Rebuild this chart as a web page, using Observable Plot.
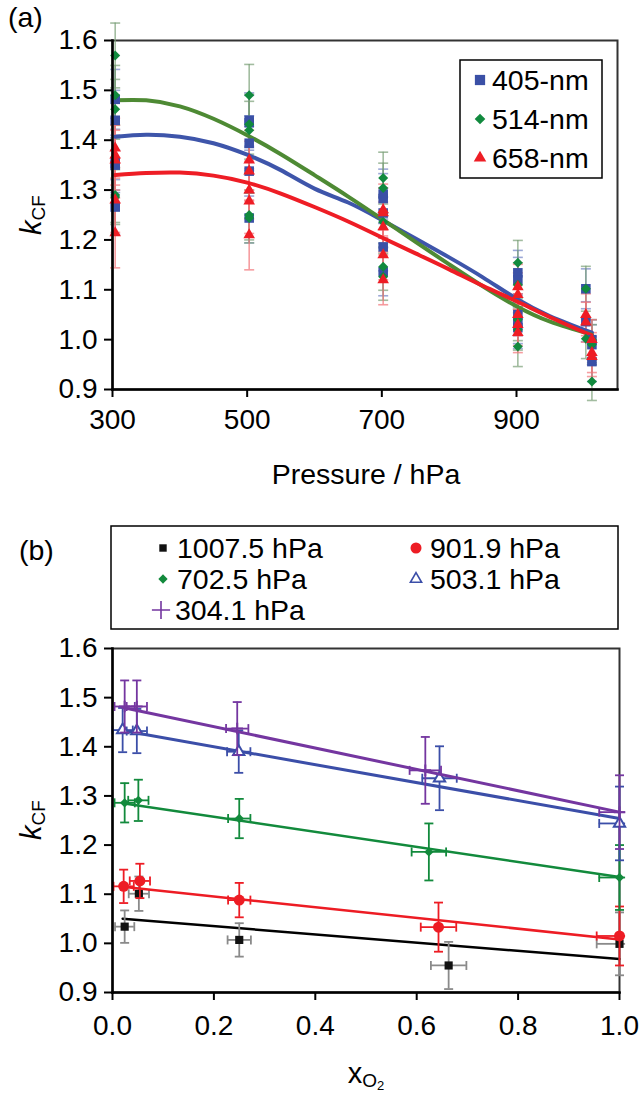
<!DOCTYPE html>
<html><head><meta charset="utf-8">
<script src="https://cdn.jsdelivr.net/npm/d3@7"></script>
<script src="https://cdn.jsdelivr.net/npm/@observablehq/plot@0.6"></script>
<style>
body{margin:0;background:#fff;}
#root{position:relative;width:642px;height:1093px;overflow:hidden;background:#fff;}
#root svg{position:absolute;left:0;}
</style></head><body><div id="root"></div>
<script>
// ---------- Panel (a) data ----------
const pressureA = [304,304,304,304,304, 503,503,503,503,503, 702,702,702,702,702, 902,902,902,902,902, 1003,1003,1012,1012,1012];
const k405 = [1.482,1.44,1.355,1.35,1.266, 1.44,1.435,1.394,1.338,1.244, 1.292,1.283,1.254,1.186,1.136, 1.134,1.12,1.05,1.034,1.024, 1.102,1.036,1.0,0.99,0.956];
const e405 = [0.06,0.06,0.055,0.055,0.055, 0.055,0.055,0.055,0.05,0.05, 0.05,0.05,0.05,0.048,0.048, 0.045,0.045,0.042,0.042,0.042, 0.04,0.04,0.04,0.04,0.04];
const k514 = [1.57,1.49,1.462,1.29,1.286, 1.49,1.432,1.42,1.25,1.244, 1.324,1.304,1.236,1.146,1.126, 1.154,1.11,1.04,1.02,0.986, 1.102,1.002,1.0,0.99,0.916];
const e514 = [0.065,0.06,0.06,0.055,0.055, 0.062,0.06,0.058,0.05,0.05, 0.052,0.05,0.05,0.047,0.047, 0.045,0.044,0.042,0.041,0.04, 0.045,0.04,0.04,0.04,0.038];
const k658 = [1.384,1.37,1.36,1.28,1.214, 1.36,1.338,1.3,1.278,1.21, 1.26,1.254,1.226,1.17,1.12, 1.106,1.09,1.05,1.03,1.014, 1.05,1.035,1.0,0.974,0.966];
const e658 = [0.06,0.06,0.06,0.065,0.07, 0.06,0.06,0.058,0.065,0.07, 0.052,0.05,0.05,0.05,0.05, 0.045,0.044,0.042,0.042,0.04, 0.042,0.04,0.04,0.04,0.04];
// fitted curves
const curveP = [304,350,400,450,500,550,600,650,700,750,800,850,900,950,1012];
const curve405 = [1.407,1.411,1.407,1.394,1.371,1.340,1.303,1.275,1.240,1.203,1.165,1.125,1.082,1.047,1.014];
const curve514 = [1.480,1.480,1.468,1.443,1.410,1.372,1.330,1.287,1.242,1.196,1.151,1.107,1.067,1.036,1.010];
const curve658 = [1.330,1.334,1.335,1.329,1.315,1.293,1.266,1.237,1.205,1.173,1.141,1.108,1.077,1.045,1.008];
const namesA = ["405-nm","514-nm","658-nm"];
const xTicksA = [300,500,700,900];
const yTicks = [0.9,1.0,1.1,1.2,1.3,1.4,1.5,1.6];

// ---------- Panel (b) data ----------
const namesB = ["1007.5 hPa","901.9 hPa","702.5 hPa","503.1 hPa","304.1 hPa"];
const xO2_1007 = [0.024,0.052,0.25,0.663,1.0];
const k_1007 = [1.034,1.101,1.007,0.955,0.999];
const ey_1007 = [0.033,0.035,0.034,0.048,0.064];
const ex_1007 = [0.019,0.02,0.023,0.035,0.045];
const xO2_902 = [0.022,0.054,0.25,0.643,1.0];
const k_902 = [1.116,1.127,1.088,1.033,1.015];
const ey_902 = [0.034,0.035,0.035,0.05,0.06];
const ex_902 = [0.02,0.02,0.022,0.035,0.045];
const xO2_702 = [0.024,0.051,0.25,0.624,1.0];
const k_702 = [1.286,1.291,1.254,1.186,1.134];
const ey_702 = [0.04,0.042,0.04,0.058,0.066];
const ex_702 = [0.02,0.02,0.022,0.034,0.04];
const xO2_503 = [0.02,0.048,0.249,0.645,1.0];
const k_503 = [1.434,1.432,1.39,1.336,1.244];
const ey_503 = [0.045,0.045,0.043,0.065,0.075];
const ex_503 = [0.02,0.02,0.023,0.034,0.04];
const xO2_304 = [0.024,0.048,0.246,0.617,1.0];
const k_304 = [1.482,1.482,1.437,1.352,1.267];
const ey_304 = [0.053,0.053,0.054,0.068,0.075];
const ex_304 = [0.02,0.02,0.022,0.031,0.04];
// linear fits (end points)
const fitX = [0.02,1.0];
const fit_1007 = [1.05,0.968];
const fit_902 = [1.115,1.008];
const fit_702 = [1.285,1.135];
const fit_503 = [1.433,1.254];
const fit_304 = [1.48,1.267];
const xTicksB = [0,0.2,0.4,0.6,0.8,1.0];

// ---------- helpers ----------
const FONT = '"Liberation Sans", Arial, Helvetica, sans-serif';
const TICKFONT = 28, TEXTFONT = 28.5;
const capSym = horiz => ({draw(ctx,size){const r=Math.sqrt(size/Math.PI); if(horiz){ctx.moveTo(-r,0);ctx.lineTo(r,0);}else{ctx.moveTo(0,-r);ctx.lineTo(0,r);}}});
const hcap = capSym(true), vcap = capSym(false);
const root = document.getElementById("root");

// ---------- Panel (a) ----------
const seriesA = [
  {name:namesA[0], k:k405, e:e405, curve:curve405, color:"#3a50a6", line:"#3e55aa", err:"#7283c4", symbol:"square", r:5.4},
  {name:namesA[1], k:k514, e:e514, curve:curve514, color:"#118a3e", line:"#4e8a34", err:"#7ba077", symbol:"diamond2", r:4.5},
  {name:namesA[2], k:k658, e:e658, curve:curve658, color:"#ee1d25", line:"#ee1d25", err:"#f27378", symbol:"triangle", r:4.3}
];
const marksA = [Plot.frame({stroke:"#333", strokeWidth:2})];
for (const s of seriesA) {
  const pts = pressureA.map((p,i)=>({p, k:s.k[i], e:s.e[i]}));
  marksA.push(
    Plot.ruleX(pts,{x:"p", y1:d=>d.k-d.e, y2:d=>d.k+d.e, stroke:s.err, strokeWidth:1.6, strokeOpacity:0.7}),
    Plot.dot(pts,{x:"p", y:d=>d.k+d.e, symbol:hcap, r:5, stroke:s.err, strokeWidth:1.6, strokeOpacity:0.7}),
    Plot.dot(pts,{x:"p", y:d=>d.k-d.e, symbol:hcap, r:5, stroke:s.err, strokeWidth:1.6, strokeOpacity:0.7})
  );
}
for (const s of seriesA) {
  marksA.push(Plot.line(curveP.map((p,i)=>({p, k:s.curve[i]})),{x:"p", y:"k", stroke:s.line, strokeWidth:4, curve:"natural"}));
}
for (const s of seriesA) {
  const pts = pressureA.map((p,i)=>({p, k:s.k[i]}));
  marksA.push(Plot.dot(pts,{x:"p", y:"k", symbol:s.symbol, r:s.r, fill:s.color, stroke:"none"}));
}
marksA.push(
  Plot.frame({anchor:"left", stroke:"#000", strokeWidth:2.5}),
  Plot.frame({anchor:"bottom", stroke:"#000", strokeWidth:2.5}),
  Plot.axisX({ticks:xTicksA, tickSize:8, tickPadding:12, tickFormat:d=>String(d), label:null, strokeWidth:2, fontSize:TICKFONT}),
  Plot.axisY({ticks:yTicks, tickSize:8, tickPadding:7, tickFormat:d=>d.toFixed(1), label:null, strokeWidth:2, fontSize:TICKFONT})
);
const plotA = Plot.plot({
  width:642, height:440, marginTop:40, marginBottom:51, marginLeft:112, marginRight:25,
  x:{domain:[300,1050]}, y:{domain:[0.9,1.6]},
  style:{fontFamily:FONT, fontSize:TICKFONT+"px", color:"#000", background:"transparent", overflow:"visible"},
  marks:marksA
});
plotA.style.top = "0px";
root.appendChild(plotA);

// ---------- Panel (b) ----------
const seriesB = [
  {name:namesB[0], x:xO2_1007, k:k_1007, ey:ey_1007, ex:ex_1007, fit:fit_1007, color:"#111111", line:"#000000", err:"#8a8a8a", symbol:"square", r:4.6, open:false, lw:2.5},
  {name:namesB[1], x:xO2_902, k:k_902, ey:ey_902, ex:ex_902, fit:fit_902, color:"#ed1c24", line:"#ed1c24", err:"#ed1c24", symbol:"circle", r:5.5, open:false, lw:2.5},
  {name:namesB[2], x:xO2_702, k:k_702, ey:ey_702, ex:ex_702, fit:fit_702, color:"#128a3c", line:"#128a3c", err:"#128a3c", symbol:"diamond2", r:4.2, open:false, lw:2.5},
  {name:namesB[3], x:xO2_503, k:k_503, ey:ey_503, ex:ex_503, fit:fit_503, color:"#3b4ea8", line:"#3b4ea8", err:"#3b4ea8", symbol:"triangle2", r:5.4, open:true, lw:3},
  {name:namesB[4], x:xO2_304, k:k_304, ey:ey_304, ex:ex_304, fit:fit_304, color:"#7436a0", line:"#7436a0", err:"#7436a0", symbol:"plus", r:3.8, open:true, lw:3}
];
const marksB = [Plot.frame({stroke:"#333", strokeWidth:2})];
for (const s of seriesB) {
  const pts = s.x.map((x,i)=>({x, k:s.k[i], ey:s.ey[i], ex:s.ex[i]}));
  marksB.push(
    Plot.line(fitX.map((x,i)=>({x, k:s.fit[i]})),{x:"x", y:"k", stroke:s.line, strokeWidth:s.lw}),
    Plot.ruleX(pts,{x:"x", y1:d=>d.k-d.ey, y2:d=>d.k+d.ey, stroke:s.err, strokeWidth:1.8}),
    Plot.dot(pts,{x:"x", y:d=>d.k+d.ey, symbol:hcap, r:4.5, stroke:s.err, strokeWidth:1.8}),
    Plot.dot(pts,{x:"x", y:d=>d.k-d.ey, symbol:hcap, r:4.5, stroke:s.err, strokeWidth:1.8}),
    Plot.ruleY(pts,{y:"k", x1:d=>d.x-d.ex, x2:d=>Math.min(d.x+d.ex,1.012), stroke:s.err, strokeWidth:1.8}),
    Plot.dot(pts.filter(d=>d.x<0.99),{x:d=>d.x+d.ex, y:"k", symbol:vcap, r:4.5, stroke:s.err, strokeWidth:1.8}),
    Plot.dot(pts,{x:d=>d.x-d.ex, y:"k", symbol:vcap, r:4.5, stroke:s.err, strokeWidth:1.8}),
    s.open
      ? Plot.dot(pts,{x:"x", y:"k", symbol:s.symbol, r:s.r, stroke:s.color, strokeWidth:2, fill:s.symbol==="plus"?"none":"white"})
      : Plot.dot(pts,{x:"x", y:"k", symbol:s.symbol, r:s.r, fill:s.color, stroke:"none"})
  );
}
marksB.push(
  Plot.frame({anchor:"left", stroke:"#000", strokeWidth:2.5}),
  Plot.frame({anchor:"bottom", stroke:"#000", strokeWidth:2.5}),
  Plot.axisX({ticks:xTicksB, tickSize:8, tickPadding:15, tickFormat:d=>d.toFixed(1), label:null, strokeWidth:2, fontSize:TICKFONT}),
  Plot.axisY({ticks:yTicks, tickSize:8, tickPadding:7, tickFormat:d=>d.toFixed(1), label:null, strokeWidth:2, fontSize:TICKFONT})
);
const plotB = Plot.plot({
  width:642, height:463, marginTop:18, marginBottom:101, marginLeft:112, marginRight:23,
  x:{domain:[0,1]}, y:{domain:[0.9,1.6]},
  style:{fontFamily:FONT, fontSize:TICKFONT+"px", color:"#000", background:"transparent", overflow:"visible"},
  marks:marksB
});
plotB.style.top = "630px";
root.appendChild(plotB);
// enforce tick label size
for (const p of [plotA, plotB]) d3.select(p).selectAll("text").style("font-size", TICKFONT+"px").style("font-family", FONT);

// ---------- overlay: titles & legends ----------
const ov = d3.select(root).append("svg").attr("width",642).attr("height",1093)
  .style("top","0px").style("pointer-events","none").style("font-family",FONT);
function txt(x,y,s,size,anchor){return ov.append("text").attr("x",x).attr("y",y).style("font-size",size+"px")
  .attr("text-anchor",anchor||"start").attr("dominant-baseline","central").attr("fill","#000").text(s);}
txt(8,17,"(a)",TEXTFONT);
txt(366,474,"Pressure / hPa",TEXTFONT,"middle");
txt(19,550,"(b)",TEXTFONT);
// k_CF labels
function kcf(cx,cy){
  const t = ov.append("text").attr("transform",`translate(${cx},${cy}) rotate(-90)`).attr("text-anchor","middle")
    .attr("dominant-baseline","central").style("font-size","29px").attr("fill","#000");
  t.append("tspan").attr("font-style","italic").text("k");
  t.append("tspan").style("font-size","19px").attr("dy",7).text("CF");
}
kcf(31,215); kcf(31,820);
// x_O2 label
{
  const t = ov.append("text").attr("x",366).attr("y",1083).attr("text-anchor","middle")
    .style("font-size","29px").attr("fill","#000");
  t.append("tspan").text("x");
  t.append("tspan").style("font-size","19px").attr("dy",4).text("O");
  t.append("tspan").style("font-size","13px").attr("dy",3).text("2");
}
function sym(type,x,y,size,fill,stroke,sw){
  ov.append("path").attr("transform",`translate(${x},${y})`).attr("d",d3.symbol().type(type).size(size)())
    .attr("fill",fill).attr("stroke",stroke||"none").attr("stroke-width",sw||0);
}
// legend (a)
ov.append("rect").attr("x",460).attr("y",60).attr("width",142).attr("height",118).attr("fill","#fff").attr("stroke","#000").attr("stroke-width",1.5);
const legA = [[d3.symbolSquare,seriesA[0].color,105],[d3.symbolDiamond2,seriesA[1].color,72],[d3.symbolTriangle,seriesA[2].color,68]];
legA.forEach((l,i)=>{const y=80+i*39; sym(l[0],480,y,l[2],l[1]); txt(492,y,namesA[i],TEXTFONT);});
// legend (b)
ov.append("rect").attr("x",111).attr("y",526).attr("width",507).attr("height",103).attr("fill","#fff").attr("stroke","#000").attr("stroke-width",1.5);
const legB = [
  [d3.symbolSquare,163,548,55,"#111",null,0],
  [d3.symbolCircle,416,548,95,"#ed1c24",null,0],
  [d3.symbolDiamond2,163,579,55,"#128a3c",null,0],
  [d3.symbolTriangle2,416,579,90,"none","#3b4ea8",1.6],
  [d3.symbolPlus,161,610,110,"none","#7436a0",1.6]
];
legB.forEach((l,i)=>{sym(l[0],l[1],l[2],l[3],l[4],l[5],l[6]); txt(l[1]+14,l[2],namesB[i],TEXTFONT);});
</script></body></html>
